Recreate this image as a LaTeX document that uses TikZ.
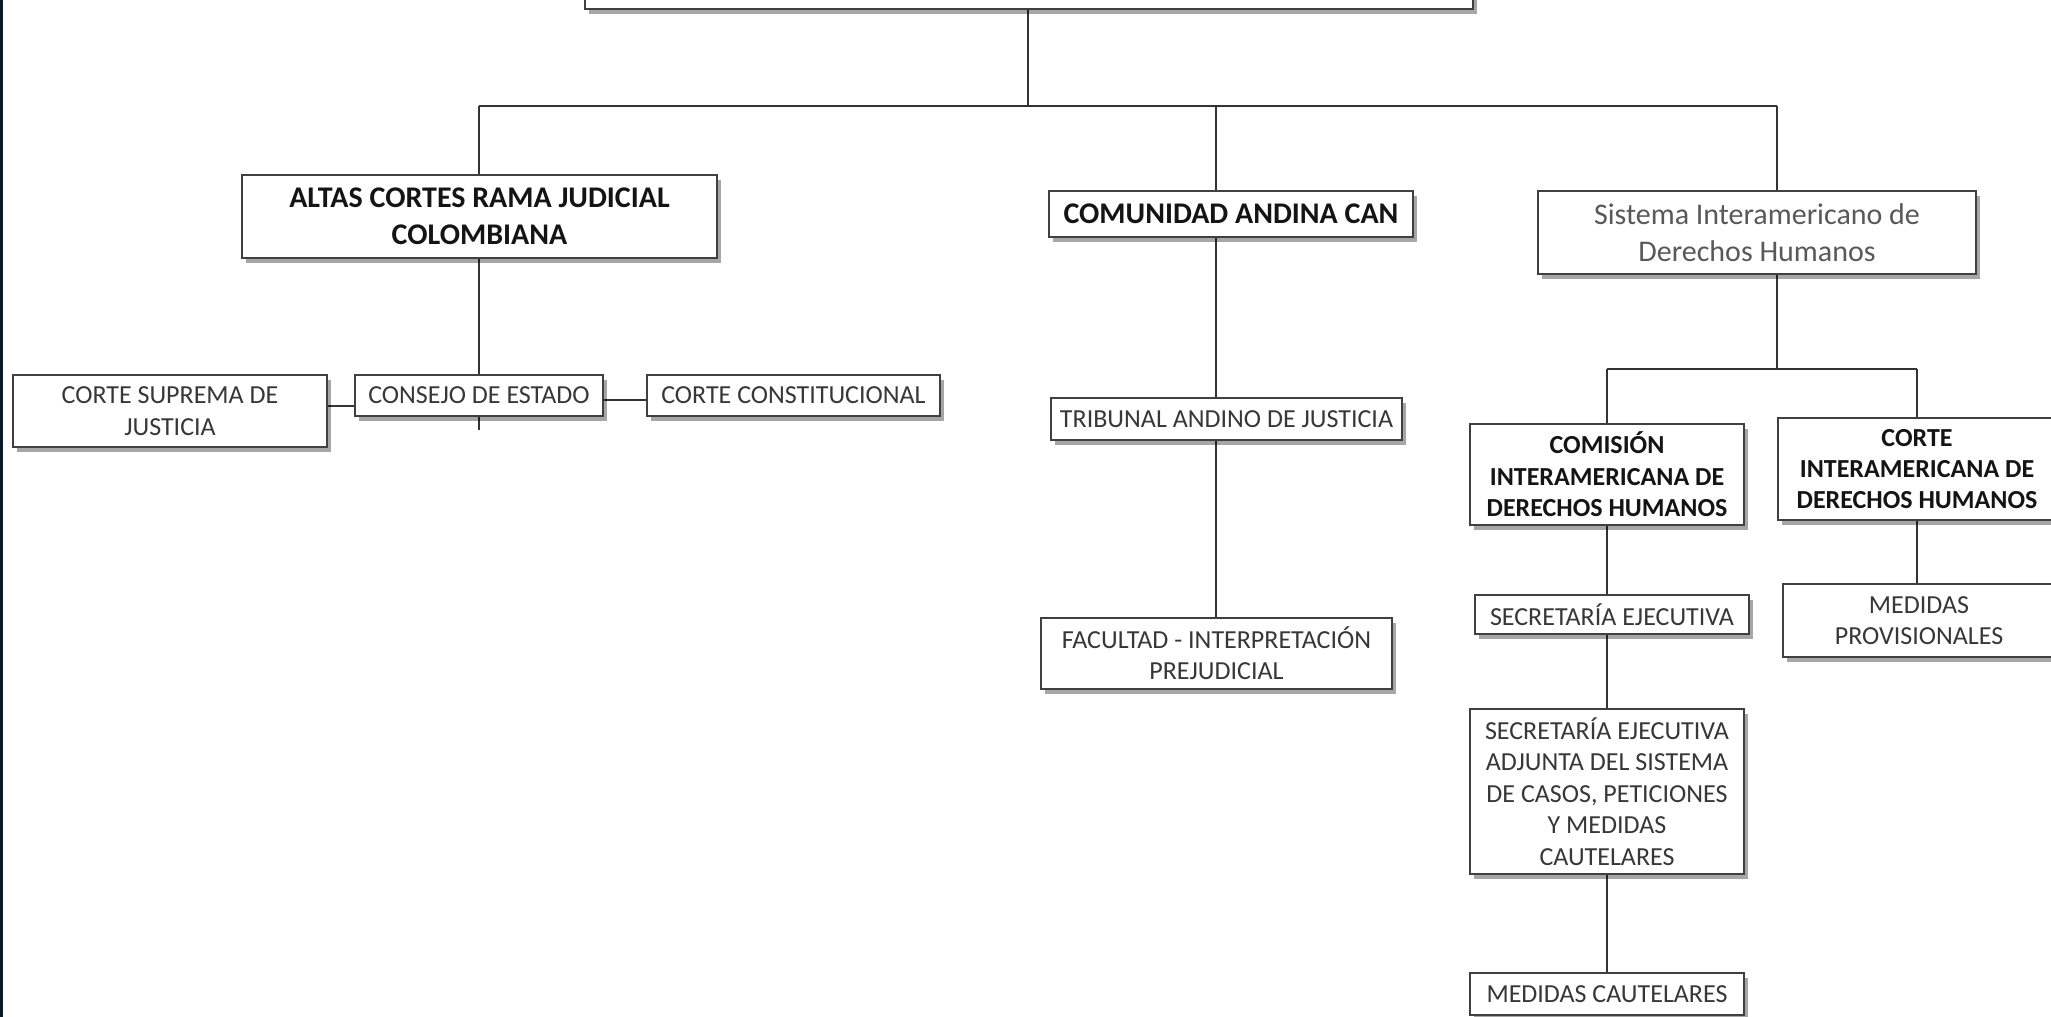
\documentclass[tikz,border=0pt]{standalone}
\usepackage{fontspec}
\setmainfont{Carlito}
\usetikzlibrary{shadows,backgrounds}

\tikzset{every picture/.style={line width=1pt}}
\tikzset{
	caja/.style={draw={rgb, 255:red, 64; green, 64; blue, 64 }, fill=white, align=center, inner sep=0pt,
		drop shadow={shadow xshift=2pt, shadow yshift=-2.5pt, fill=black, opacity=0.35}},
	titulo/.style={caja, font=\fontsize{15}{18.3}\selectfont\bfseries, text={rgb, 255:red, 20; green, 20; blue, 20 }},
	subtitulo/.style={caja, font=\fontsize{13}{15.7}\selectfont\bfseries, text={rgb, 255:red, 20; green, 20; blue, 20 }},
	organo/.style={caja, font=\fontsize{13}{15.7}\selectfont, text={rgb, 255:red, 55; green, 55; blue, 55 }},
	sistemas/.style={caja, font=\fontsize{15}{18.3}\selectfont, text={rgb, 255:red, 89; green, 89; blue, 89 }},
	enlace/.style={draw={rgb, 255:red, 51; green, 51; blue, 51 }, line width=1pt},
}

\begin{document}
\begin{tikzpicture}[x=0.5pt,y=0.5pt,yscale=-1,xscale=1]
	\useasboundingbox (0,0) rectangle (2051,1017);
	\clip (0,0) rectangle (2051,1017);

	%Shape: Rectangle [cabeza, cortada arriba]
	\node[caja, minimum width=444pt, minimum height=40pt] (cabeza) at (1029,-31) {};

	%Rama judicial
	\node[titulo, minimum width=237.5pt, minimum height=41.5pt] (altas) at (479.5,216.5) {ALTAS CORTES RAMA JUDICIAL\\COLOMBIANA};
	\node[organo, minimum width=124pt, minimum height=20.5pt] (consejo) at (479,395.5) {CONSEJO DE ESTADO};
	\node[organo, minimum width=157pt, minimum height=36pt] (suprema) at (170,411) {CORTE SUPREMA DE\\JUSTICIA};
	\node[organo, minimum width=146.5pt, minimum height=20.5pt] (constitucional) at (793.5,395.5) {CORTE CONSTITUCIONAL};

	%Comunidad andina
	\node[titulo, minimum width=182pt, minimum height=23pt] (can) at (1231,214) {COMUNIDAD ANDINA CAN};
	\node[organo, minimum width=175.5pt, minimum height=21pt] (tribunal) at (1226.5,419) {TRIBUNAL ANDINO DE JUSTICIA};
	\node[organo, minimum width=175.5pt, minimum height=35.5pt] (facultad) at (1216.5,653.5) {FACULTAD - INTERPRETACIÓN\\PREJUDICIAL};

	%Sistema interamericano
	\node[sistemas, minimum width=219pt, minimum height=41.5pt] (sistema) at (1757,232.5) {Sistema Interamericano de\\Derechos Humanos};
	\node[subtitulo, minimum width=137pt, minimum height=50.5pt] (comision) at (1607,474.5) {COMISIÓN\\INTERAMERICANA DE\\DERECHOS HUMANOS};
	\node[subtitulo, minimum width=139pt, minimum height=51pt] (corteidh) at (1917,469) {CORTE\\INTERAMERICANA DE\\DERECHOS HUMANOS};
	\node[organo, minimum width=137pt, minimum height=19.5pt] (secretaria) at (1612,614.5) {SECRETARÍA EJECUTIVA};
	\node[organo, minimum width=137pt, minimum height=82.5pt] (adjunta) at (1607,791.5) {SECRETARÍA EJECUTIVA\\ADJUNTA DEL SISTEMA\\DE CASOS, PETICIONES\\Y MEDIDAS\\CAUTELARES};
	\node[organo, minimum width=137pt, minimum height=21pt] (cautelares) at (1607,994) {MEDIDAS CAUTELARES};
	\node[organo, minimum width=136pt, minimum height=36.5pt] (provisionales) at (1919,620.5) {MEDIDAS\\PROVISIONALES};

	% Junctions
	\coordinate (b0) at (1028,106);
	\coordinate (b1) at (479,106);
	\coordinate (b2) at (1216,106);
	\coordinate (b3) at (1777,106);
	\coordinate (s0) at (1777,369);
	\coordinate (s1) at (1607,369);
	\coordinate (s2) at (1917,369);
	\coordinate (fin) at (479,430);

	\begin{scope}[on background layer]
		%Straight Lines
		\draw[enlace] (b0 |- cabeza.south) -- (b0);
		\draw[enlace] (b1) -- (b3);
		\draw[enlace] (b1) -- (fin);
		\draw[enlace] ([yshift=5pt]consejo.west) -- ([yshift=5pt]consejo.west -| suprema.east);
		\draw[enlace] ([yshift=2pt]consejo.east) -- ([yshift=2pt]consejo.east -| constitucional.west);
		\draw[enlace] (b2) -- (b2 |- facultad.north);
		\draw[enlace] (b3) -- (s0);
		\draw[enlace] (s1) -- (s2);
		\draw[enlace] (s1) -- (s1 |- cautelares.north);
		\draw[enlace] (s2) -- (s2 |- provisionales.north);
	\end{scope}

	%Shape: borde izquierdo
	\fill[fill={rgb, 255:red, 12; green, 24; blue, 44 }] (0,0) rectangle (3,1017);
\end{tikzpicture}
\end{document}
